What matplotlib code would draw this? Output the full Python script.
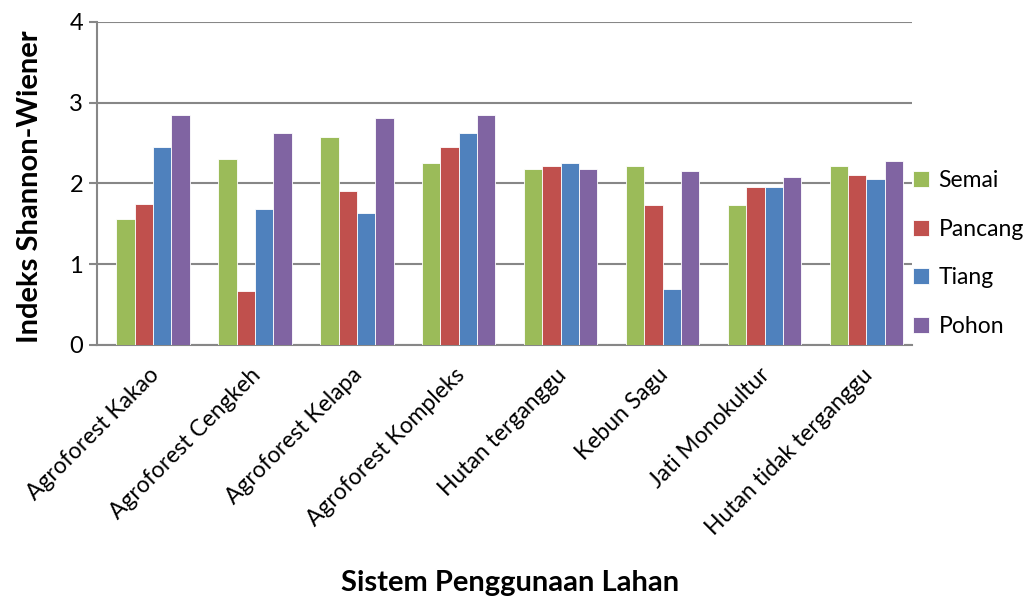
import numpy as np
import matplotlib.pyplot as plt

plt.rcParams['font.family'] = ['Lato', 'DejaVu Sans']

# data
categories = ['Agroforest Kakao', 'Agroforest Cengkeh', 'Agroforest Kelapa',
              'Agroforest Kompleks', 'Hutan terganggu', 'Kebun Sagu',
              'Jati Monokultur', 'Hutan tidak terganggu']
semai = [1.56, 2.30, 2.57, 2.25, 2.18, 2.22, 1.73, 2.22]
pancang = [1.75, 0.67, 1.90, 2.45, 2.22, 1.73, 1.95, 2.10]
tiang = [2.45, 1.68, 1.63, 2.62, 2.25, 0.69, 1.95, 2.05]
pohon = [2.84, 2.62, 2.81, 2.84, 2.18, 2.15, 2.08, 2.27]
series_names = ['Semai', 'Pancang', 'Tiang', 'Pohon']
colors = ['#9BBB59', '#C0504D', '#4F81BD', '#8064A2']

fig = plt.figure(figsize=(10.32, 6.03), dpi=100)
ax = fig.add_axes([0.094, 0.428, 0.790, 0.536])

x = np.arange(len(categories))
width = 0.18
for i, (vals, name, c) in enumerate(zip([semai, pancang, tiang, pohon], series_names, colors)):
    ax.bar(x + (i - 1.5) * width + 0.05, vals, width, color=c, edgecolor='white',
           linewidth=0.6, label=name, zorder=3)

ax.set_xlim(-0.5, len(categories) - 0.5)
ax.set_ylim(0, 4)
ax.set_yticks([0, 1, 2, 3, 4])
ax.yaxis.grid(True, color='#878787', linewidth=1.5, zorder=0)
ax.set_axisbelow(True)
for s in ['top', 'right']:
    ax.spines[s].set_visible(False)
ax.spines['left'].set_color('#878787')
ax.spines['bottom'].set_color('#878787')
ax.spines['left'].set_linewidth(1.5)
ax.spines['bottom'].set_linewidth(1.5)
ax.tick_params(axis='y', length=6, width=1.5, color='#878787', labelsize=17, pad=4)
ax.tick_params(axis='x', length=0, labelsize=16.5, pad=14)

ax.set_xticks(x)
ax.set_xticklabels(categories, rotation=45, ha='right', rotation_mode='anchor')

ax.set_ylabel('Indeks Shannon-Wiener', fontsize=21, fontweight='bold')
ax.yaxis.set_label_coords(-0.066, 0.49)
ax.set_xlabel('Sistem Penggunaan Lahan', fontsize=21, fontweight='bold')
ax.xaxis.set_label_coords(0.507, -0.695)

ax.legend(loc='center left', bbox_to_anchor=(0.99, 0.283), frameon=False,
          fontsize=16.5, handlelength=0.7, handleheight=0.7, handletextpad=0.4,
          labelspacing=1.2, borderaxespad=0.0)

fig.savefig('out.png', dpi=100)
